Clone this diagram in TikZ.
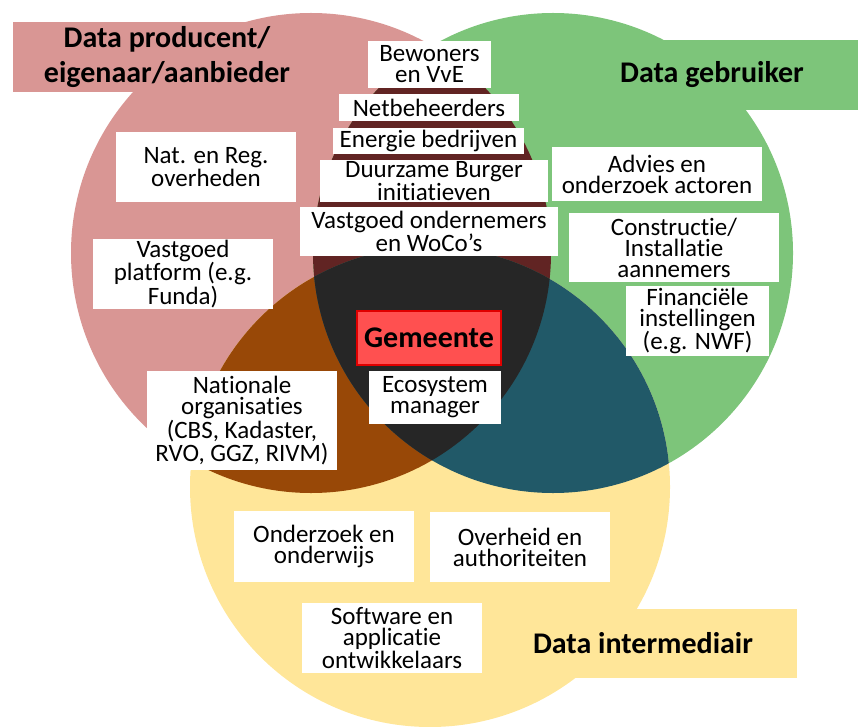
\documentclass[tikz,border=0pt]{standalone}
\usepackage{fontspec}
\setmainfont{Carlito}[Ligatures=NoCommon]
\definecolor{prodred}{HTML}{D99694}
\definecolor{usergreen}{HTML}{7DC57A}
\definecolor{interyellow}{HTML}{FFE699}
\definecolor{rgmix}{HTML}{612423}
\definecolor{rymix}{HTML}{984807}
\definecolor{gymix}{HTML}{215968}
\definecolor{allmix}{HTML}{262626}
\definecolor{gemfill}{HTML}{FF5050}
\definecolor{gemedge}{HTML}{E00000}
\begin{document}
\begin{tikzpicture}[x=1pt,y=-1pt,
  actor/.style={fill=white, align=center, inner sep=0pt, text=black,
    font=\fontsize{25}{21}\selectfont},
  rolelabel/.style={align=center, inner sep=0pt, text=black,
    font=\bfseries\fontsize{30}{35}\selectfont},
  gembox/.style={fill=gemfill, draw=gemedge, line width=2pt, align=center,
    inner sep=0pt, font=\bfseries\fontsize{30}{30}\selectfont}]
\useasboundingbox (0,0) rectangle (858,727);

% the three role circles
\fill[prodred] (311,253) circle[radius=240pt];
\fill[usergreen] (553,253) circle[radius=240pt];
\fill[interyellow] (430,487) circle[radius=240pt];

% pairwise overlaps
\begin{scope}
  \clip (311,253) circle[radius=240pt];
  \fill[rgmix] (553,253) circle[radius=240pt];
\end{scope}
\begin{scope}
  \clip (311,253) circle[radius=240pt];
  \fill[rymix] (430,487) circle[radius=240pt];
\end{scope}
\begin{scope}
  \clip (553,253) circle[radius=240pt];
  \fill[gymix] (430,487) circle[radius=240pt];
\end{scope}
% common overlap of all three
\begin{scope}
  \clip (311,253) circle[radius=240pt];
  \clip (553,253) circle[radius=240pt];
  \fill[allmix] (430,487) circle[radius=240pt];
\end{scope}

% role banners
\fill[prodred] (13,22) rectangle (321,92);
\fill[usergreen] (566,40) rectangle (858,110);
\fill[interyellow] (489,609) rectangle (797,678);
\node[rolelabel] (producent) at (167,57) {Data producent/\\eigenaar/aanbieder};
\node[rolelabel] (gebruiker) at (712,75) {Data gebruiker};
\node[rolelabel] (intermediair) at (643,643) {Data intermediair};

% actors
\node[actor, minimum width=123pt, minimum height=47pt] (bewoners) at (429.5,64.5) {Bewoners\\en VvE};
\node[actor, minimum width=180pt, minimum height=27pt] (netbeheer) at (429,107.5) {Netbeheerders};
\node[actor, minimum width=191pt, minimum height=26pt] (energie) at (428.5,141) {Energie bedrijven};
\node[actor, minimum width=228pt, minimum height=42pt] (burger) at (434,181) {Duurzame Burger\\initiatieven};
\node[actor, minimum width=258pt, minimum height=49pt] (vastgoedond) at (429,231.5) {Vastgoed ondernemers\\en WoCo’s};
\node[actor, minimum width=180pt, minimum height=70pt] (natreg) at (206,167) {Nat. en Reg.\\overheden};
\node[actor, minimum width=180pt, minimum height=70pt] (platform) at (183,274) {Vastgoed\\platform (e.g.\\Funda)};
\node[actor, minimum width=210pt, minimum height=54pt] (advies) at (657,174) {Advies en\\onderzoek actoren};
\node[actor, minimum width=210pt, minimum height=69pt] (constructie) at (674,247.5) {Constructie/\\Installatie\\aannemers};
\node[actor, minimum width=143pt, minimum height=70pt] (financieel) at (697.5,321) {Financiële\\instellingen\\(e.g. NWF)};
\node[gembox, minimum width=144pt, minimum height=54pt] (gemeente) at (429,338) {Gemeente};
\node[actor, minimum width=132pt, minimum height=53pt] (ecosystem) at (435,397.5) {Ecosystem\\manager};
\node[actor, minimum width=190pt, minimum height=99pt] (nationaal) at (242,420.5) {Nationale\\organisaties\\(CBS, Kadaster,\\RVO, GGZ, RIVM)};
\node[actor, minimum width=180pt, minimum height=71pt] (onderzoek) at (324,546.5) {Onderzoek en\\onderwijs};
\node[actor, minimum width=180pt, minimum height=70pt] (overheid) at (520,547) {Overheid en\\authoriteiten};
\node[actor, minimum width=180pt, minimum height=70pt] (software) at (392,638) {Software en\\applicatie\\ontwikkelaars};
\end{tikzpicture}
\end{document}
